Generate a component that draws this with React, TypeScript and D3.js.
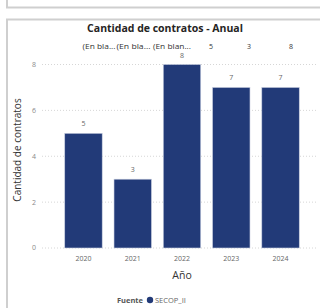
import React, {useEffect, useRef} from 'react';
import * as d3 from 'd3';

// data
const years = ['2020', '2021', '2022', '2023', '2024'];
const contratos = [5, 3, 8, 7, 7];
const yTicks = [0, 2, 4, 6, 8];
const topLabels = ['(En bla...', '(En bla...', '(En blan...', '5', '3', '8'];

const W = 320;
const H = 308;
const FONT = '"Open Sans", "Noto Sans", sans-serif';

// where the overflowing header labels sit (layout only)
const headerX = [82.5, 116.5, 153, 211, 249, 291];
const headerLen = [33, 34, 38];

function App() {
    const ref = useRef<SVGSVGElement>(null);

    useEffect(() => {
        const svg = d3.select(ref.current);
        svg.selectAll('*').remove();

        const x = d3.scaleBand<string>()
            .domain(years)
            .range([47.5, 316.5])
            .paddingInner(0.24)
            .paddingOuter(0.35);

        const y = d3.scaleLinear()
            .domain([0, 8])
            .range([248, 64.5]);

        // card borders
        const border = svg.append('g')
            .attr('stroke', '#cfcfcf')
            .attr('stroke-width', 2)
            .attr('fill', 'none');
        border.append('path').attr('d', `M7,0 V7.5 H${W}`);
        border.append('path').attr('d', `M7,${H} V19.5 H${W}`);

        // title
        svg.append('text')
            .attr('x', 165)
            .attr('y', 32)
            .attr('text-anchor', 'middle')
            .attr('font-family', FONT)
            .attr('font-weight', 'bold')
            .attr('font-size', 10.5)
            .attr('fill', '#252423')
            .text('Cantidad de contratos - Anual');

        // odd overflowing labels row
        const header = svg.append('g')
            .selectAll('text')
            .data(topLabels)
            .enter()
            .append('text')
            .attr('x', (_, i) => headerX[i])
            .attr('y', 48.5)
            .attr('text-anchor', (_, i) => (i < 3 ? 'start' : 'middle'))
            .attr('font-family', FONT)
            .attr('font-size', 7)
            .attr('fill', '#333')
            .text((d) => d);
        header.filter((_, i) => i < 3)
            .attr('textLength', (_, i) => headerLen[i])
            .attr('lengthAdjust', 'spacingAndGlyphs');

        // gridlines
        svg.append('g')
            .selectAll('line')
            .data(yTicks)
            .enter()
            .append('line')
            .attr('x1', 42)
            .attr('x2', 318)
            .attr('y1', (d) => y(d))
            .attr('y2', (d) => y(d))
            .attr('stroke', '#d6d6d6')
            .attr('stroke-dasharray', '1,2');

        // y ticks
        svg.append('g')
            .selectAll('text')
            .data(yTicks)
            .enter()
            .append('text')
            .attr('x', 36)
            .attr('y', (d) => y(d))
            .attr('dy', '0.35em')
            .attr('text-anchor', 'end')
            .attr('font-family', FONT)
            .attr('font-size', 7)
            .attr('fill', '#8a8a8a')
            .text((d) => d);

        // y axis title
        svg.append('text')
            .attr('transform', `translate(21, 150) rotate(-90)`)
            .attr('text-anchor', 'middle')
            .attr('font-family', FONT)
            .attr('font-size', 10)
            .attr('fill', '#333')
            .text('Cantidad de contratos');

        // bars
        svg.append('g')
            .selectAll('rect')
            .data(contratos)
            .enter()
            .append('rect')
            .attr('x', (_, i) => x(years[i])!)
            .attr('y', (d) => y(d))
            .attr('width', x.bandwidth())
            .attr('height', (d) => y(0) - y(d))
            .attr('fill', '#223a78')
            .attr('stroke', '#c9cfe0')
            .attr('stroke-width', 0.6);

        // value labels
        svg.append('g')
            .selectAll('text')
            .data(contratos)
            .enter()
            .append('text')
            .attr('x', (_, i) => x(years[i])! + x.bandwidth() / 2)
            .attr('y', (d) => y(d) - 7)
            .attr('text-anchor', 'middle')
            .attr('font-family', FONT)
            .attr('font-size', 7)
            .attr('fill', '#666')
            .text((d) => d);

        // x ticks
        svg.append('g')
            .selectAll('text')
            .data(years)
            .enter()
            .append('text')
            .attr('x', (d) => x(d)! + x.bandwidth() / 2)
            .attr('y', 261)
            .attr('text-anchor', 'middle')
            .attr('font-family', FONT)
            .attr('font-size', 7)
            .attr('fill', '#666')
            .text((d) => d);

        // x axis title
        svg.append('text')
            .attr('x', 182)
            .attr('y', 279)
            .attr('text-anchor', 'middle')
            .attr('font-family', FONT)
            .attr('font-size', 10.5)
            .attr('fill', '#333')
            .text('Año');

        // legend
        const legend = svg.append('g').attr('font-family', FONT).attr('font-size', 7.5);
        legend.append('text')
            .attr('x', 143)
            .attr('y', 303)
            .attr('text-anchor', 'end')
            .attr('font-weight', 'bold')
            .attr('fill', '#555')
            .text('Fuente');
        legend.append('circle')
            .attr('cx', 150)
            .attr('cy', 300)
            .attr('r', 3.2)
            .attr('fill', '#223a78');
        legend.append('text')
            .attr('x', 155)
            .attr('y', 303)
            .attr('fill', '#666')
            .text('SECOP_II');
    }, []);

    return (
        <svg ref={ref} width={W} height={H}
             style={{position: 'absolute', left: 0, top: 0, background: '#fff'}}/>
    );
}

export default App;
